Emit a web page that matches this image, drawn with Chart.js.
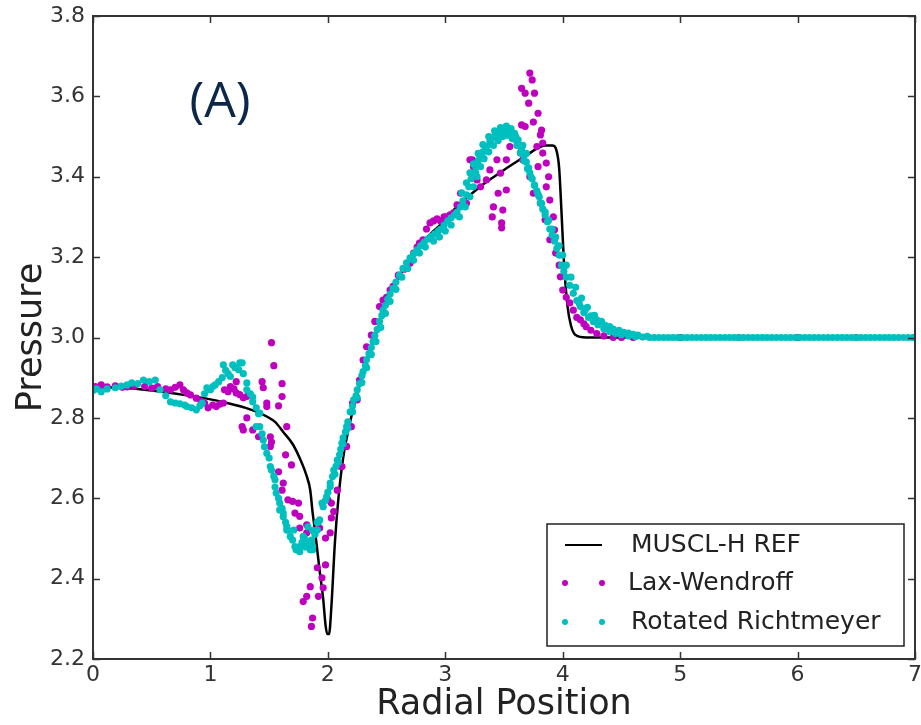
<!DOCTYPE html>
<html><head><meta charset="utf-8">
<script src="https://cdn.jsdelivr.net/npm/chart.js@4.4.1/dist/chart.umd.min.js"></script>
<style>html,body{margin:0;padding:0;background:#fff;}</style>
</head><body>
<canvas id="c" width="921" height="725"></canvas>
<script>
// ---------- data ----------
const xTicks = [0, 1, 2, 3, 4, 5, 6, 7];
const yTicks = [2.2, 2.4, 2.6, 2.8, 3.0, 3.2, 3.4, 3.6, 3.8];
const seriesLabels = ['MUSCL-H REF', 'Lax-Wendroff', 'Rotated Richtmeyer'];
const panelLabel = '(A)';
const xTitle = 'Radial Position';
const yTitle = 'Pressure';

// MUSCL-H reference solution (line)
const refLine = [
 [0,2.877],[0.3,2.874],[0.5,2.868],[0.8,2.856],[1.0,2.846],[1.14,2.837],[1.3,2.825],[1.42,2.812],
 [1.55,2.79],[1.62,2.765],[1.7,2.735],[1.76,2.70],[1.82,2.655],[1.85,2.62],[1.87,2.565],[1.89,2.52],
 [1.91,2.47],[1.93,2.42],[1.96,2.35],[1.98,2.285],[1.995,2.262],[2.01,2.262],[2.03,2.33],[2.06,2.49],
 [2.09,2.60],[2.13,2.70],[2.19,2.79],[2.25,2.86],[2.3,2.91],[2.4,3.0],[2.5,3.085],[2.6,3.148],
 [2.7,3.195],[2.8,3.235],[2.9,3.265],[3.0,3.292],[3.1,3.326],[3.2,3.352],[3.3,3.376],[3.4,3.397],
 [3.5,3.417],[3.6,3.436],[3.7,3.455],[3.78,3.47],[3.85,3.478],[3.91,3.478],[3.95,3.462],[3.97,3.42],
 [3.99,3.31],[4.01,3.19],[4.04,3.08],[4.07,3.03],[4.11,3.006],[4.2,3.0],[5,3.0],[6,3.0],[7,3.0]
];

// Lax-Wendroff (magenta dots)
const lwPoints = [
 [0.02,2.878],[0.07,2.882],[0.12,2.877],[0.19,2.880],[0.25,2.876],[0.29,2.877],[0.35,2.879],[0.44,2.878],
 [0.50,2.874],[0.55,2.878],[0.62,2.872],[0.66,2.870],[0.70,2.876],[0.74,2.882],[0.77,2.870],[0.80,2.862],
 [0.83,2.857],[0.88,2.849],[0.92,2.842],[0.95,2.837],[0.98,2.825],[1.02,2.832],[1.05,2.828],[1.08,2.834],
 [1.11,2.837],[1.12,2.870],[1.15,2.865],[1.17,2.878],[1.20,2.872],[1.22,2.862],[1.22,2.890],[1.25,2.858],
 [1.28,2.850],[1.31,2.853],[1.27,2.778],[1.28,2.770],[1.31,2.800],[1.36,2.770],[1.41,2.753],[1.44,2.890],
 [1.45,2.875],[1.48,2.837],[1.48,2.828],[1.51,2.753],[1.52,2.740],[1.51,2.729],[1.52,2.987],[1.54,2.930],
 [1.58,2.830],[1.61,2.885],[1.61,2.853],[1.65,2.778],[1.64,2.708],[1.69,2.683],[1.58,2.666],[1.62,2.638],
 [1.61,2.620],[1.66,2.596],[1.70,2.592],[1.75,2.588],[1.72,2.563],[1.76,2.555],[1.76,2.526],[1.82,2.534],
 [1.82,2.514],[1.93,2.526],[1.98,2.501],[2.02,2.514],[1.91,2.427],[1.98,2.434],[1.95,2.402],[1.96,2.377],
 [1.85,2.380],[1.82,2.356],[1.79,2.343],[1.92,2.356],[1.87,2.302],[1.86,2.281],[2.00,2.596],[2.03,2.588],
 [2.05,2.567],[2.03,2.551],[2.08,2.620],[2.10,2.680],[2.12,2.679],[2.16,2.729],[2.20,2.778],[2.21,2.837],
 [2.25,2.845],[2.27,2.894],[2.30,2.944],[2.33,2.977],[2.37,3.006],[2.40,3.040],[2.44,3.077],[2.47,3.093],
 [2.50,3.100],[2.53,3.118],[2.555,3.127],[2.60,3.155],[2.65,3.170],[2.70,3.185],[2.73,3.210],[2.76,3.225],
 [2.78,3.235],[2.81,3.243],[2.84,3.270],[2.87,3.285],[2.90,3.290],[2.93,3.295],[2.96,3.290],[2.99,3.300],
 [3.01,3.300],[3.04,3.305],[3.07,3.310],[3.10,3.330],[3.13,3.359],[3.18,3.334],[3.21,3.442],[3.23,3.442],
 [3.24,3.425],[3.27,3.392],[3.30,3.375],[3.35,3.392],[3.38,3.417],[3.41,3.325],[3.40,3.300],[3.44,3.442],
 [3.45,3.359],[3.47,3.409],[3.48,3.285],[3.48,3.273],[3.49,3.317],[3.52,3.367],[3.52,3.442],[3.55,3.475],
 [3.61,3.490],[3.64,3.459],[3.65,3.529],[3.66,3.442],[3.68,3.525],[3.65,3.620],[3.68,3.608],[3.71,3.583],
 [3.72,3.658],[3.74,3.641],[3.76,3.608],[3.75,3.536],[3.79,3.558],[3.72,3.400],[3.75,3.359],[3.78,3.475],
 [3.79,3.425],[3.81,3.504],[3.82,3.516],[3.83,3.484],[3.83,3.459],[3.86,3.434],[3.81,3.334],[3.85,3.293],
 [3.88,3.400],[3.86,3.375],[3.89,3.342],[3.89,3.243],[3.92,3.300],[3.93,3.268],[3.94,3.210],[3.97,3.180],
 [3.98,3.151],[4.00,3.118],[4.03,3.100],[4.06,3.086],[4.09,3.068],[4.12,3.050],[4.15,3.044],[4.18,3.034],
 [4.20,3.027],[4.24,3.018],[4.29,3.010],[4.35,3.004],[4.43,3.000],[4.50,3.000],[4.60,3.000],[5.00,3.000],
 [5.50,3.000],[6.00,3.000],[6.50,3.000],[7.00,3.000]
];

// Rotated Richtmeyer (cyan dots)
const rrPoints = [
 [0.00,2.868],[0.03,2.872],[0.07,2.865],[0.12,2.872],[0.19,2.875],[0.24,2.879],[0.29,2.882],[0.33,2.887],
 [0.38,2.885],[0.43,2.894],[0.48,2.890],[0.53,2.894],[0.57,2.870],[0.62,2.855],[0.66,2.840],[0.70,2.837],
 [0.74,2.835],[0.78,2.832],[0.80,2.828],[0.84,2.825],[0.88,2.820],[0.91,2.830],[0.93,2.837],[0.95,2.860],
 [0.97,2.875],[1.00,2.870],[1.02,2.878],[1.04,2.882],[1.07,2.890],[1.10,2.900],[1.11,2.932],[1.13,2.918],
 [1.15,2.910],[1.17,2.903],[1.19,2.932],[1.21,2.925],[1.24,2.920],[1.25,2.937],[1.27,2.937],[1.28,2.910],
 [1.31,2.887],[1.31,2.870],[1.34,2.860],[1.36,2.840],[1.36,2.852],[1.39,2.825],[1.41,2.810],[1.42,2.812],
 [1.42,2.778],[1.39,2.778],[1.44,2.760],[1.45,2.745],[1.46,2.728],[1.48,2.712],[1.50,2.700],[1.51,2.679],
 [1.52,2.670],[1.54,2.655],[1.55,2.646],[1.55,2.628],[1.56,2.613],[1.58,2.600],[1.59,2.588],[1.61,2.575],
 [1.62,2.563],[1.62,2.554],[1.64,2.540],[1.65,2.530],[1.66,2.521],[1.68,2.505],[1.70,2.496],[1.72,2.480],
 [1.75,2.472],[1.76,2.467],[1.78,2.490],[1.80,2.500],[1.81,2.479],[1.82,2.480],[1.84,2.490],[1.85,2.472],
 [1.86,2.496],[1.87,2.520],[1.87,2.480],[1.89,2.510],[1.91,2.521],[1.92,2.541],[1.93,2.546],[1.71,2.521],
 [1.76,2.480],[1.79,2.505],[1.86,2.489],[1.83,2.529],[1.91,2.540],[1.87,2.472],[1.73,2.472],[1.65,2.521],
 [1.59,2.571],[1.95,2.588],[1.96,2.579],[1.98,2.595],[1.99,2.604],[2.00,2.615],[2.02,2.629],[2.02,2.638],
 [2.04,2.654],[2.05,2.670],[2.07,2.680],[2.08,2.695],[2.10,2.708],[2.11,2.722],[2.12,2.737],[2.13,2.750],
 [2.15,2.765],[2.16,2.778],[2.17,2.790],[2.19,2.815],[2.21,2.830],[2.22,2.845],[2.24,2.855],[2.25,2.870],
 [2.27,2.885],[2.29,2.905],[2.30,2.915],[2.32,2.930],[2.33,2.945],[2.35,2.960],[2.37,2.975],[2.385,2.990],
 [2.40,3.005],[2.42,3.020],[2.44,3.040],[2.46,3.055],[2.47,3.068],[2.49,3.080],[2.51,3.095],[2.53,3.108],
 [2.555,3.122],[2.58,3.138],[2.61,3.155],[2.64,3.172],[2.67,3.186],[2.70,3.198],[2.73,3.208],[2.76,3.218],
 [2.79,3.228],[2.82,3.237],[2.85,3.245],[2.88,3.252],[2.91,3.258],[2.94,3.265],[2.96,3.270],[2.99,3.280],
 [3.02,3.290],[3.05,3.298],[3.08,3.305],[3.10,3.312],[3.13,3.325],[3.15,3.340],[3.18,3.355],[3.20,3.375],
 [3.22,3.395],[3.24,3.410],[3.26,3.425],[3.28,3.440],[3.30,3.452],[3.32,3.462],[3.35,3.475],[3.38,3.488],
 [3.41,3.498],[3.44,3.505],[3.47,3.512],[3.50,3.517],[3.53,3.518],[3.55,3.512],[3.58,3.502],[3.60,3.492],
 [3.62,3.482],[3.65,3.467],[3.67,3.452],[3.69,3.437],[3.71,3.422],[3.72,3.410],[3.74,3.395],[3.76,3.380],
 [3.78,3.365],[3.80,3.350],[3.81,3.335],[3.83,3.320],[3.85,3.305],[3.87,3.288],[3.89,3.270],[3.91,3.255],
 [3.93,3.240],[3.95,3.222],[3.97,3.205],[3.99,3.180],[4.01,3.165],[4.03,3.150],[4.06,3.130],[4.09,3.110],
 [4.12,3.092],[4.15,3.077],[4.18,3.062],[4.22,3.050],[4.26,3.040],[4.30,3.032],[4.35,3.022],[4.40,3.015],
 [4.45,3.010],[4.50,3.007],[4.56,3.004],[4.62,3.002],[4.68,3.001],[4.74,3.000],
 // band thickness: lower rising side
 [2.06,2.660],[2.09,2.690],[2.13,2.735],[2.17,2.775],[2.21,2.815],[2.25,2.850],[2.29,2.888],[2.33,2.925],
 [2.37,2.958],[2.41,2.990],[2.45,3.025],[2.49,3.060],[2.53,3.090],[2.58,3.120],[2.63,3.150],[2.68,3.172],
 [2.73,3.192],[2.78,3.210],[2.83,3.225],
 // band thickness: around the peak
 [3.12,3.300],[3.17,3.325],[3.21,3.350],[3.24,3.375],[3.27,3.400],[3.30,3.425],[3.33,3.445],[3.37,3.462],
 [3.41,3.478],[3.45,3.490],[3.49,3.500],[3.53,3.503],[3.57,3.495],[3.61,3.478],[3.64,3.460],[3.67,3.440],
 [3.70,3.420],[3.73,3.400],[3.76,3.378],[3.79,3.356],[3.82,3.334],[3.85,3.312],[3.88,3.292],[3.91,3.270],
 [3.94,3.250],[3.97,3.228],[4.00,3.205],[4.03,3.180],[4.07,3.150],[4.11,3.125],[4.16,3.098],[4.21,3.075],
 [4.27,3.055],[4.33,3.040],[4.40,3.027],[4.48,3.018],[4.56,3.011],[4.64,3.006],[4.72,3.003],
 [4.14,3.085],[4.19,3.068],[4.24,3.054],[4.29,3.044],[4.36,3.030],[4.43,3.021],[4.52,3.013],[4.60,3.008],
 [3.14,3.360],[3.18,3.385],[3.21,3.410],[3.24,3.432],[3.28,3.458],[3.32,3.480],[3.37,3.500],[3.42,3.514],
 [3.47,3.522],[3.52,3.526],[3.56,3.520],[3.59,3.508],[3.62,3.492],[3.66,3.478],[3.69,3.458],
 [3.45,3.500],[3.49,3.508],[3.39,3.482],[3.34,3.465],[3.26,3.410],[3.60,3.500],[3.64,3.476],
 [2.90,3.240],[2.95,3.250],[3.00,3.265],[3.05,3.280],
 // flat tail
 [4.78,3.0],[4.82,3.0],[4.86,3.0],[4.90,3.0],[4.94,3.0],[4.98,3.0],[5.02,3.0],[5.06,3.0],[5.10,3.0],
 [5.14,3.0],[5.18,3.0],[5.22,3.0],[5.26,3.0],[5.30,3.0],[5.34,3.0],[5.38,3.0],[5.42,3.0],[5.46,3.0],
 [5.50,3.0],[5.54,3.0],[5.58,3.0],[5.62,3.0],[5.66,3.0],[5.70,3.0],[5.74,3.0],[5.78,3.0],[5.82,3.0],
 [5.86,3.0],[5.90,3.0],[5.94,3.0],[5.98,3.0],[6.02,3.0],[6.06,3.0],[6.10,3.0],[6.14,3.0],[6.18,3.0],
 [6.22,3.0],[6.26,3.0],[6.30,3.0],[6.34,3.0],[6.38,3.0],[6.42,3.0],[6.46,3.0],[6.50,3.0],[6.54,3.0],
 [6.58,3.0],[6.62,3.0],[6.66,3.0],[6.70,3.0],[6.74,3.0],[6.78,3.0],[6.82,3.0],[6.86,3.0],[6.90,3.0],
 [6.94,3.0],[6.98,3.0],[7.00,3.0]
];

// ---------- styles ----------
const COL_REF = '#000000', COL_LW = '#bf00bf', COL_RR = '#00bfbf';
const AXIS_COL = '#333333';
const FONT = 'DejaVu Sans';

const toXY = arr => arr.map(p => ({x: p[0], y: p[1]}));

const framePlugin = {
  id: 'frame',
  afterDatasetsDraw(chart) {
    const {ctx, chartArea: a, scales} = chart;
    ctx.save();
    ctx.strokeStyle = AXIS_COL;
    ctx.lineWidth = 1.5;
    const tl = 7;
    ctx.beginPath();
    xTicks.forEach(v => {
      const px = Math.round(scales.x.getPixelForValue(v)) + 0.5;
      ctx.moveTo(px, a.bottom); ctx.lineTo(px, a.bottom - tl);
      ctx.moveTo(px, a.top); ctx.lineTo(px, a.top + tl);
    });
    yTicks.forEach(v => {
      const py = Math.round(scales.y.getPixelForValue(v)) + 0.5;
      ctx.moveTo(a.left, py); ctx.lineTo(a.left + tl, py);
      ctx.moveTo(a.right, py); ctx.lineTo(a.right - tl, py);
    });
    ctx.stroke();
    ctx.lineWidth = 2;
    ctx.strokeRect(a.left, a.top, a.right - a.left, a.bottom - a.top);

    // panel label
    ctx.fillStyle = '#0c2747';
    ctx.font = '50px "Open Sans"';
    ctx.textAlign = 'center';
    ctx.textBaseline = 'alphabetic';
    ctx.fillText(panelLabel, a.left + 127, a.top + 101);

    // legend
    const bx = a.right - 368, by = a.bottom - 135, bw = 357, bh = 122;
    ctx.fillStyle = '#ffffff';
    ctx.fillRect(bx, by, bw, bh);
    ctx.lineWidth = 1.5;
    ctx.strokeStyle = '#222';
    ctx.strokeRect(bx, by, bw, bh);
    const rows = [by + 21, by + 59, by + 98];
    const x1 = bx + 18, x2 = bx + 55;
    ctx.strokeStyle = COL_REF; ctx.lineWidth = 1.8;
    ctx.beginPath(); ctx.moveTo(x1, rows[0]); ctx.lineTo(x2, rows[0]); ctx.stroke();
    [[COL_LW, rows[1]], [COL_RR, rows[2]]].forEach(([c, y]) => {
      ctx.fillStyle = c;
      [x1, x2].forEach(x => { ctx.beginPath(); ctx.arc(x, y, 3, 0, Math.PI * 2); ctx.fill(); });
    });
    ctx.fillStyle = '#222';
    ctx.font = '25px "' + FONT + '"';
    ctx.textAlign = 'left';
    ctx.textBaseline = 'middle';
    ctx.fillText(seriesLabels[0], bx + 84, rows[0]);
    ctx.fillText(seriesLabels[1], bx + 81, rows[1]);
    ctx.fillText(seriesLabels[2], bx + 84, rows[2]);
    ctx.restore();
  }
};

new Chart(document.getElementById('c'), {
  type: 'scatter',
  data: {
    datasets: [
      {label: seriesLabels[0], type: 'line', data: toXY(refLine), showLine: true, borderColor: COL_REF,
       borderWidth: 2.5, pointRadius: 0, cubicInterpolationMode: 'monotone', fill: false, order: 3},
      {label: seriesLabels[1], data: toXY(lwPoints), backgroundColor: COL_LW, borderWidth: 0,
       pointRadius: 3.6, order: 2},
      {label: seriesLabels[2], data: toXY(rrPoints), backgroundColor: COL_RR, borderWidth: 0,
       pointRadius: 3.6, order: 1}
    ]
  },
  options: {
    responsive: false,
    animation: false,
    devicePixelRatio: 1,
    layout: {padding: {top: 16, right: 6, left: 0, bottom: 0}},
    plugins: {legend: {display: false}, tooltip: {enabled: false}},
    scales: {
      x: {
        type: 'linear', min: 0, max: 7,
        afterBuildTicks: s => { s.ticks = xTicks.map(v => ({value: v})); },
        afterFit: s => { s.height = 66; s.paddingLeft = 0; s.paddingRight = 0; },
        grid: {display: false, drawTicks: false},
        border: {display: false},
        ticks: {font: {family: FONT, size: 22}, color: AXIS_COL, padding: 3, maxRotation: 0,
                autoSkip: false, callback: v => String(v)},
        title: {display: true, text: xTitle, color: '#222', font: {family: FONT, size: 35, lineHeight: 1},
                padding: {top: 0, bottom: 2.5}}
      },
      y: {
        type: 'linear', min: 2.2, max: 3.8,
        afterBuildTicks: s => { s.ticks = yTicks.map(v => ({value: v})); },
        afterFit: s => { s.width = 93; s.paddingTop = 0; s.paddingBottom = 0; },
        grid: {display: false, drawTicks: false},
        border: {display: false},
        ticks: {font: {family: FONT, size: 22}, color: AXIS_COL, padding: 8,
                autoSkip: false, callback: v => Number(v).toFixed(1)},
        title: {display: true, text: yTitle, color: '#222', font: {family: FONT, size: 35, lineHeight: 1},
                padding: {top: 14, bottom: 0}}
      }
    }
  },
  plugins: [framePlugin]
});
</script>
</body></html>
